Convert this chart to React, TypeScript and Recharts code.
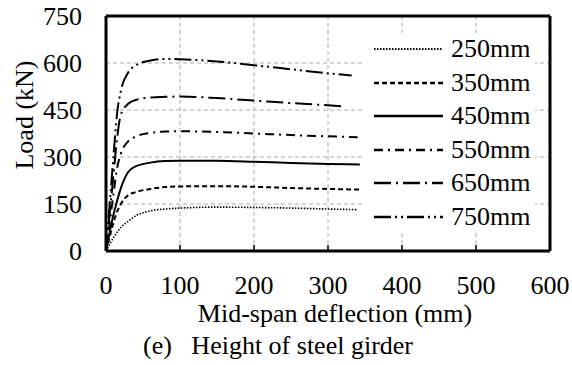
import { LineChart, Line, XAxis, YAxis, CartesianGrid, ReferenceLine } from 'recharts';

const FONT = '"Liberation Serif", "Times New Roman", serif';

const X_TICKS = [0, 100, 200, 300, 400, 500, 600];
const Y_TICKS = [0, 150, 300, 450, 600, 750];

// shared deflection points (mm), last point of each series is in END_DEFLECTION
const DEFLECTION = [0, 5, 10, 15, 20, 30, 40, 60, 80, 100, 150, 200, 250, 300];
const END_DEFLECTION = [340, 345, 343, 340, 323, 332];

const LOAD_250 = [0, 22, 42, 60, 75, 95, 112, 128, 134, 137, 140, 139, 137, 134, 132];
const LOAD_350 = [0, 45, 90, 125, 150, 178, 188, 198, 204, 206, 207, 205, 201, 198, 196];
const LOAD_450 = [0, 60, 115, 160, 200, 252, 270, 282, 287, 288, 288, 285, 281, 278, 276];
const LOAD_550 = [0, 90, 180, 265, 310, 350, 365, 377, 381, 382, 380, 375, 370, 366, 363];
const LOAD_650 = [0, 120, 240, 360, 435, 470, 482, 490, 492, 493, 488, 480, 472, 465, 461];
const LOAD_750 = [0, 150, 300, 440, 510, 570, 592, 608, 613, 612, 605, 593, 580, 567, 560];

const NAMES = ['250mm', '350mm', '450mm', '550mm', '650mm', '750mm'];
const LOADS = [LOAD_250, LOAD_350, LOAD_450, LOAD_550, LOAD_650, LOAD_750];

const STYLES = [
  { dash: '1.5 1.5', width: 1.6 },
  { dash: '5 3', width: 2 },
  { dash: '', width: 2 },
  { dash: '9 5 2 5', width: 2 },
  { dash: '17 5 2 5', width: 2 },
  { dash: '17 4 2 4 2 4', width: 2 },
];

const series = NAMES.map((name, i) => ({
  name,
  data: LOADS[i].map((load, j) => ({
    x: j < DEFLECTION.length ? DEFLECTION[j] : END_DEFLECTION[i],
    y: load,
  })),
}));

function LegendBox() {
  return (
    <div style={{ position: 'absolute', left: 365, top: 33, width: 170, height: 197, background: 'white', fontFamily: FONT, fontSize: 26 }}>
      {NAMES.map((name, i) => (
        <div key={name} style={{ position: 'absolute', left: 9, top: 16 + i * 33.6 - 13, height: 26, display: 'flex', alignItems: 'center' }}>
          <svg width={69} height={10} style={{ marginRight: 8 }}>
            <line
              x1={0}
              y1={5}
              x2={69}
              y2={5}
              stroke="#000"
              strokeWidth={STYLES[i].width + 0.4}
              strokeDasharray={STYLES[i].dash}
            />
          </svg>
          <span style={{ lineHeight: '26px', whiteSpace: 'pre' }}>{name}</span>
        </div>
      ))}
    </div>
  );
}

export default function App() {
  const label = { position: 'absolute' as const, fontFamily: FONT, fontSize: 26, lineHeight: '26px', color: '#000', whiteSpace: 'pre' as const };
  return (
    <div style={{ position: 'absolute', left: 0, top: 0, width: 572, height: 365, background: 'white' }}>
      <LineChart width={572} height={365} margin={{ top: 16, right: 22, bottom: 84, left: 36 }}>
        <CartesianGrid stroke="#aaa" strokeDasharray="4 3" strokeWidth={1} />
        <XAxis
          dataKey="x"
          type="number"
          domain={[0, 600]}
          ticks={X_TICKS}
          height={30}
          axisLine={{ stroke: '#000', strokeWidth: 3 }}
          tickLine={{ stroke: '#000', strokeWidth: 1.5 }}
          tickSize={-6}
          tickMargin={31}
          tick={{ fill: '#000', fontFamily: FONT, fontSize: 26 }}
          allowDataOverflow
        />
        <YAxis
          type="number"
          domain={[0, 750]}
          ticks={Y_TICKS}
          width={70}
          axisLine={{ stroke: '#000', strokeWidth: 3 }}
          tickLine={false}
          tickSize={0}
          tickMargin={24}
          tick={{ fill: '#000', fontFamily: FONT, fontSize: 26 }}
        />
        <ReferenceLine y={750} stroke="#000" strokeWidth={3} />
        <ReferenceLine x={600} stroke="#000" strokeWidth={3} />
        {series.map((s, i) => (
          <Line
            key={s.name}
            data={s.data}
            dataKey="y"
            name={s.name}
            type="monotone"
            stroke="#000"
            strokeWidth={STYLES[i].width}
            strokeDasharray={STYLES[i].dash}
            dot={false}
            isAnimationActive={false}
          />
        ))}
      </LineChart>
      <LegendBox />
      <div style={{ ...label, left: 0, width: 50, top: 115 - 13, height: 26 }}>
        <div style={{ position: 'absolute', left: 25, top: 0, transform: 'translate(-50%, 0) rotate(-90deg)', whiteSpace: 'pre' }}>Load (kN)</div>
      </div>
      <div style={{ ...label, left: 0, width: 670, top: 300.8, textAlign: 'center' }}>Mid-span deflection (mm)</div>
      <div style={{ ...label, left: 143, top: 333.3 }}>{'(e)   Height of steel girder'}</div>
    </div>
  );
}
